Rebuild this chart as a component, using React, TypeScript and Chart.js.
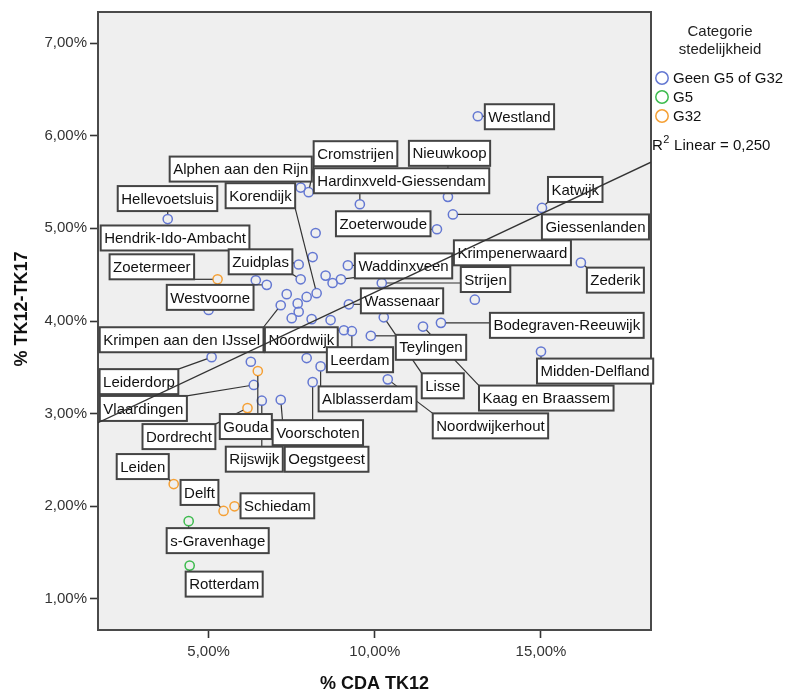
import React, { useEffect, useRef } from 'react';
import { Chart, registerables } from 'chart.js';

Chart.register(...registerables);

// ---------- data ----------
const geenNames = [
  'Westland', 'Nieuwkoop', 'Hardinxveld-Giessendam', 'Cromstrijen', 'Alphen aan den Rijn',
  'Katwijk', 'Giessenlanden', 'Zoeterwoude', 'Hellevoetsluis', '',
  '', 'Hendrik-Ido-Ambacht', 'Waddinxveen', 'Zederik', 'Zuidplas',
  '', 'Krimpenerwaard', '', '', 'Westvoorne',
  'Strijen', '', 'Korendijk', '', '',
  '', 'Krimpen aan den IJssel', 'Wassenaar', '', '',
  '', '', '', 'Lisse', 'Bodegraven-Reeuwijk',
  'Kaag en Braassem', 'Noordwijk', 'Leerdam', 'Teylingen', 'Midden-Delfland',
  'Leiderdorp', '', '', 'Alblasserdam', 'Noordwijkerhout',
  'Voorschoten', 'Vlaardingen', 'Oegstgeest', 'Rijswijk',
];
const geenX = [
  13.10, 12.20, 9.55, 8.01, 7.77,
  15.03, 12.35, 11.87, 3.77, 8.22,
  8.13, 7.71, 9.19, 16.20, 7.77,
  8.52, 8.98, 8.73, 6.42, 6.75,
  10.21, 7.35, 8.25, 7.95, 13.01,
  7.68, 7.17, 9.22, 5.00, 7.71,
  7.50, 8.10, 8.67, 10.27, 11.99,
  11.45, 9.07, 9.31, 9.88, 15.00,
  5.09, 7.95, 6.27, 8.37, 10.39,
  8.13, 6.36, 7.17, 6.60,
];
const geenY = [
  6.21, 5.34, 5.26, 5.39, 5.44,
  5.22, 5.15, 4.99, 5.10, 4.95,
  4.69, 4.61, 4.60, 4.63, 4.45,
  4.49, 4.45, 4.41, 4.44, 4.39,
  4.41, 4.29, 4.30, 4.26, 4.23,
  4.19, 4.17, 4.18, 4.12, 4.10,
  4.03, 4.02, 4.01, 4.04, 3.98,
  3.94, 3.90, 3.89, 3.84, 3.67,
  3.61, 3.60, 3.56, 3.51, 3.37,
  3.34, 3.31, 3.15, 3.14,
];

const g5Names = ['s-Gravenhage', 'Rotterdam'];
const g5X = [4.40, 4.43];
const g5Y = [1.84, 1.36];

const g32Names = ['Zoetermeer', 'Gouda', 'Dordrecht', 'Leiden', 'Delft', 'Schiedam'];
const g32X = [5.27, 6.48, 6.17, 3.95, 5.45, 5.78];
const g32Y = [4.45, 3.46, 3.06, 2.24, 1.95, 2.00];

const seriesLabels = ['Geen G5 of G32', 'G5', 'G32'];
const legendTitle = ['Categorie', 'stedelijkheid'];

const xTickValues = [5, 10, 15];
const yTickValues = [1, 2, 3, 4, 5, 6, 7];
const xRange = [1.672, 18.31];
const yRange = [0.665, 7.335];

const fitSlope = 0.169;
const fitIntercept = 2.62;
const rSquared = 0.25;

const xTitle = '% CDA TK12';
const yTitle = '% TK12-TK17';

// ---------- layout / style (not data) ----------
const COLORS = ['#6478d2', '#3dbb4e', '#f5a035'];
const FONT = "'Liberation Sans', Arial, sans-serif";

// label box top-left offset relative to the point (pixels)
const labelOffsets: Record<string, [number, number]> = {
  'Westland': [7, -12],
  'Cromstrijen': [5, -51],
  'Nieuwkoop': [-39, -56],
  'Hardinxveld-Giessendam': [-46, -36],
  'Alphen aan den Rijn': [-131, -31],
  'Korendijk': [-91, -110],
  'Hellevoetsluis': [-50, -33],
  'Hendrik-Ido-Ambacht': [-198, -39],
  'Zoetermeer': [-108, -25],
  'Zuidplas': [-72, -30],
  'Westvoorne': [-100, 0],
  'Zoeterwoude': [-101, -18],
  'Katwijk': [6, -31],
  'Giessenlanden': [89, 0],
  'Krimpenerwaard': [113, -39],
  'Zederik': [6, 5],
  'Strijen': [79, -16],
  'Waddinxveen': [7, -12],
  'Wassenaar': [12, -16],
  'Bodegraven-Reeuwijk': [49, -10],
  'Midden-Delfland': [-4, 7],
  'Teylingen': [25, -1],
  'Leerdam': [-25, 16],
  'Lisse': [38, 56],
  'Kaag en Braassem': [56, 59],
  'Noordwijkerhout': [45, 34],
  'Alblasserdam': [-2, 20],
  'Krimpen aan den IJssel': [-181, 22],
  'Noordwijk': [-79, -3],
  'Leiderdorp': [-112, 12],
  'Vlaardingen': [-154, 11],
  'Dordrecht': [-105, 16],
  'Gouda': [-38, 43],
  'Voorschoten': [-40, 38],
  'Rijswijk': [-36, 46],
  'Oegstgeest': [4, 47],
  'Leiden': [-57, -30],
  'Delft': [-43, -31],
  'Schiedam': [6, -13],
  's-Gravenhage': [-22, 7],
  'Rotterdam': [-4, 6],
};

const fmtPct = (v: number) => v.toFixed(2).replace('.', ',') + '%';

const toPoints = (xs: number[], ys: number[]) => xs.map((x, i) => ({ x, y: ys[i] }));

export default function App() {
  const ref = useRef<HTMLCanvasElement | null>(null);

  useEffect(() => {
    const canvas = ref.current;
    if (!canvas) return;
    document.body.style.margin = '0';

    const namesBySeries = [geenNames, g5Names, g32Names];

    const framePlugin = {
      id: 'frame',
      beforeDatasetsDraw(chart: any) {
        const { ctx, chartArea: a } = chart;
        ctx.save();
        ctx.fillStyle = '#efefef';
        ctx.fillRect(a.left, a.top, a.right - a.left, a.bottom - a.top);
        ctx.strokeStyle = '#4a4a4a';
        ctx.lineWidth = 2;
        ctx.strokeRect(a.left, a.top, a.right - a.left, a.bottom - a.top);
        ctx.restore();
      },
    };

    const labelPlugin = {
      id: 'pointLabels',
      beforeDatasetDraw(chart: any, args: any) {
        if (args.index !== 3) return;
        const { ctx } = chart;
        ctx.save();
        ctx.font = `15px ${FONT}`;
        const boxes: any[] = [];
        for (let s = 0; s < 3; s++) {
          const meta = chart.getDatasetMeta(s);
          const names = namesBySeries[s];
          meta.data.forEach((el: any, i: number) => {
            const name = names[i];
            if (!name) return;
            const off = labelOffsets[name] || [6, -12];
            const w = ctx.measureText(name).width + 7;
            const h = 25;
            boxes.push({ name, px: el.x, py: el.y, x: el.x + off[0], y: el.y + off[1], w, h });
          });
        }
        // leaders
        ctx.strokeStyle = '#333';
        ctx.lineWidth = 1.2;
        boxes.forEach((b) => {
          const cx = Math.max(b.x, Math.min(b.px, b.x + b.w));
          const cy = Math.max(b.y, Math.min(b.py, b.y + b.h));
          const dx = cx - b.px;
          const dy = cy - b.py;
          const d = Math.hypot(dx, dy);
          if (d < 6) return;
          ctx.beginPath();
          ctx.moveTo(b.px + (dx / d) * 5, b.py + (dy / d) * 5);
          ctx.lineTo(cx, cy);
          ctx.stroke();
        });
        // boxes
        boxes.forEach((b) => {
          ctx.fillStyle = '#ffffff';
          ctx.fillRect(b.x, b.y, b.w, b.h);
          ctx.strokeStyle = '#444';
          ctx.lineWidth = 2;
          ctx.strokeRect(b.x, b.y, b.w, b.h);
          ctx.fillStyle = '#111';
          ctx.textBaseline = 'middle';
          ctx.textAlign = 'left';
          ctx.fillText(b.name, b.x + 3.5, b.y + b.h / 2 + 1);
        });
        ctx.restore();
      },
    };

    const decorPlugin = {
      id: 'decor',
      afterDraw(chart: any) {
        const { ctx, chartArea: a } = chart;
        ctx.save();
        // axis titles
        ctx.fillStyle = '#111';
        ctx.font = `bold 18px ${FONT}`;
        ctx.textAlign = 'center';
        ctx.textBaseline = 'middle';
        ctx.fillText(xTitle, (a.left + a.right) / 2, 684);
        ctx.save();
        ctx.translate(22, 309);
        ctx.rotate(-Math.PI / 2);
        ctx.fillText(yTitle, 0, 0);
        ctx.restore();

        // legend
        ctx.font = `15px ${FONT}`;
        ctx.fillStyle = '#222';
        ctx.fillText(legendTitle[0], 720, 32);
        ctx.fillText(legendTitle[1], 720, 50);
        ctx.textAlign = 'left';
        seriesLabels.forEach((lab, i) => {
          const y = 78 + i * 19;
          ctx.beginPath();
          ctx.arc(662, y, 6.2, 0, Math.PI * 2);
          ctx.strokeStyle = COLORS[i];
          ctx.lineWidth = 1.5;
          ctx.stroke();
          ctx.fillStyle = '#111';
          ctx.fillText(lab, 673, y + 1);
        });

        // R² text
        const rx = a.right + 1;
        const ry = 146;
        ctx.font = `15px ${FONT}`;
        ctx.fillStyle = '#111';
        ctx.fillText('R', rx, ry);
        const rw = ctx.measureText('R').width;
        ctx.font = `11px ${FONT}`;
        ctx.fillText('2', rx + rw + 0.5, ry - 6);
        const sw = ctx.measureText('2').width;
        ctx.font = `15px ${FONT}`;
        ctx.fillText(' Linear = ' + rSquared.toFixed(3).replace('.', ','), rx + rw + sw + 1, ry);
        ctx.restore();
      },
    };

    const fitLine = [
      { x: xRange[0], y: fitIntercept + fitSlope * xRange[0] },
      { x: xRange[1], y: fitIntercept + fitSlope * xRange[1] },
    ];

    const pointDs = (label: string, data: any[], color: string) => ({
      type: 'scatter' as const,
      label,
      data,
      order: 1,
      pointStyle: 'circle',
      pointRadius: 4.6,
      pointBorderWidth: 1.5,
      pointBorderColor: color,
      pointBackgroundColor: 'rgba(0,0,0,0)',
      borderColor: color,
      backgroundColor: 'rgba(0,0,0,0)',
      showLine: false,
    });

    const chart = new Chart(canvas, {
      type: 'scatter',
      data: {
        datasets: [
          pointDs(seriesLabels[0], toPoints(geenX, geenY), COLORS[0]),
          pointDs(seriesLabels[1], toPoints(g5X, g5Y), COLORS[1]),
          pointDs(seriesLabels[2], toPoints(g32X, g32Y), COLORS[2]),
          {
            type: 'line' as const,
            label: 'fit',
            data: fitLine,
            order: 0,
            borderColor: '#333',
            borderWidth: 1.4,
            pointRadius: 0,
            fill: false,
            showLine: true,
          } as any,
        ],
      },
      options: {
        responsive: false,
        animation: false,
        layout: { padding: { left: 0, top: 12, right: 134, bottom: 0 } },
        plugins: {
          legend: { display: false },
          tooltip: { enabled: false },
        },
        scales: {
          x: {
            type: 'linear',
            min: xRange[0],
            max: xRange[1],
            afterBuildTicks: (scale: any) => {
              scale.ticks = xTickValues.map((v) => ({ value: v }));
            },
            afterFit: (scale: any) => {
              scale.height = 63;
            },
            grid: {
              display: true,
              drawOnChartArea: false,
              drawTicks: true,
              tickLength: 8,
              tickWidth: 1.6,
              tickColor: '#333',
            },
            border: { display: false },
            ticks: {
              padding: 5,
              color: '#333',
              font: { family: FONT, size: 15 },
              maxRotation: 0,
              callback: (v: any) => fmtPct(Number(v)),
            },
          },
          y: {
            type: 'linear',
            min: yRange[0],
            max: yRange[1],
            afterBuildTicks: (scale: any) => {
              scale.ticks = yTickValues.map((v) => ({ value: v }));
            },
            afterFit: (scale: any) => {
              scale.width = 98;
            },
            grid: {
              display: true,
              drawOnChartArea: false,
              drawTicks: true,
              tickLength: 8,
              tickWidth: 1.6,
              tickColor: '#333',
            },
            border: { display: false },
            ticks: {
              padding: 3,
              color: '#333',
              font: { family: FONT, size: 15 },
              callback: (v: any) => fmtPct(Number(v)),
            },
          },
        },
      },
      plugins: [framePlugin, labelPlugin, decorPlugin],
    } as any);

    return () => chart.destroy();
  }, []);

  return (
    <div style={{ position: 'absolute', left: 0, top: 0, width: 785, height: 693, background: '#fff' }}>
      <canvas ref={ref} width={785} height={693} style={{ display: 'block' }} />
    </div>
  );
}
